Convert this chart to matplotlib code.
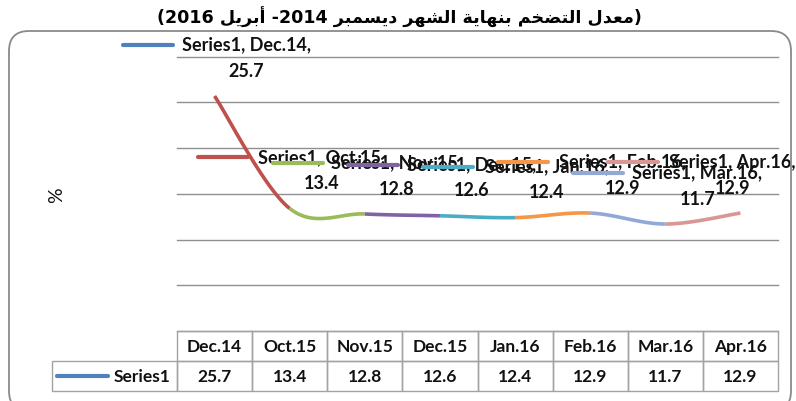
import matplotlib
matplotlib.use('Agg')
import matplotlib.pyplot as plt
import numpy as np
from matplotlib.lines import Line2D
from matplotlib.patches import FancyBboxPatch, Rectangle
from matplotlib.transforms import IdentityTransform, blended_transform_factory

# ---------------- data ----------------
categories = ['Dec.14', 'Oct.15', 'Nov.15', 'Dec.15', 'Jan.16', 'Feb.16', 'Mar.16', 'Apr.16']
values = [25.7, 13.4, 12.8, 12.6, 12.4, 12.9, 11.7, 12.9]
series_name = 'Series1'
y_label = '%'
y_max = 30
y_step = 5
# title pieces (logical Arabic words)
title_words = ['معدل', 'التضخم', 'بنهاية', 'الشهر', 'ديسمبر']
title_year_start = '2014'
title_month_end = 'أبريل'
title_year_end = '2016'

# ---------------- styles ----------------
series_color = '#4F81BD'
segment_colors = ['#C0504D', '#9BBB59', '#8064A2', '#4BACC6', '#F79646', '#92A9D8', '#D99694']
key_colors = [series_color] + segment_colors
label_offsets = [(32, 39)] * 7 + [(-8, 39)]   # pixels from the point (x right, y up)
W, H, DPI = 796, 402, 100
FONT = 'Lato'
TXT = '#111111'

# ---------------- minimal Arabic shaping ----------------
FORMS = {
    '\u0627': (0xFE8D, 0xFE8E, None, None),
    '\u0623': (0xFE83, 0xFE84, None, None),
    '\u062F': (0xFEA9, 0xFEAA, None, None),
    '\u0631': (0xFEAD, 0xFEAE, None, None),
    '\u0629': (0xFE93, 0xFE94, None, None),
    '\u0628': (0xFE8F, 0xFE90, 0xFE91, 0xFE92),
    '\u062A': (0xFE95, 0xFE96, 0xFE97, 0xFE98),
    '\u062E': (0xFEA5, 0xFEA6, 0xFEA7, 0xFEA8),
    '\u0633': (0xFEB1, 0xFEB2, 0xFEB3, 0xFEB4),
    '\u0634': (0xFEB5, 0xFEB6, 0xFEB7, 0xFEB8),
    '\u0636': (0xFEBD, 0xFEBE, 0xFEBF, 0xFEC0),
    '\u0639': (0xFEC9, 0xFECA, 0xFECB, 0xFECC),
    '\u0644': (0xFEDD, 0xFEDE, 0xFEDF, 0xFEE0),
    '\u0645': (0xFEE1, 0xFEE2, 0xFEE3, 0xFEE4),
    '\u0646': (0xFEE5, 0xFEE6, 0xFEE7, 0xFEE8),
    '\u0647': (0xFEE9, 0xFEEA, 0xFEEB, 0xFEEC),
    '\u064A': (0xFEF1, 0xFEF2, 0xFEF3, 0xFEF4),
}


def shape(word):
    out = []
    n = len(word)
    for i, ch in enumerate(word):
        f = FORMS.get(ch)
        if f is None:
            out.append(ch)
            continue
        prev = word[i - 1] if i > 0 else None
        nxt = word[i + 1] if i < n - 1 else None
        jp = prev in FORMS and FORMS[prev][2] is not None
        jn = f[2] is not None and nxt in FORMS
        if jp and jn:
            c = f[3]
        elif jp:
            c = f[1]
        elif jn:
            c = f[2]
        else:
            c = f[0]
        out.append(chr(c))
    return ''.join(reversed(out))


arabic_part = ' '.join(shape(w) for w in reversed(title_words))
title_visual = ('(' + title_year_end + ' ' + shape(title_month_end) + ' -' + title_year_start + ' '
                + arabic_part + ')')

# ---------------- figure ----------------
fig = plt.figure(figsize=(W / DPI, H / DPI), dpi=DPI)
fig.patch.set_facecolor('white')
ax_l, ax_r, ax_t, ax_b = 177, 778, 57.7, 332
ax_w = ax_r - ax_l
ax_h = ax_b - ax_t
ax = fig.add_axes([ax_l / W, 1 - ax_b / H, ax_w / W, ax_h / H])
ax.set_xlim(-0.5, len(categories) - 0.5)
ax.set_ylim(0, y_max)
ax.set_yticks(np.arange(0, y_max + 1, y_step))
ax.grid(axis='y', color='#8F8F8F', lw=1.0)
for gl in ax.get_ygridlines():
    gl.set_clip_on(False)
ax.tick_params(left=False, bottom=False, labelleft=False, labelbottom=False)
for s in ax.spines.values():
    s.set_visible(False)
ax.set_axisbelow(True)
ax.patch.set_alpha(0)

# smoothed line (Catmull-Rom style Bezier, like Excel smoothing)
x = np.arange(len(values), dtype=float)
y = np.array(values, dtype=float)
P = np.column_stack([x, y])
n = len(P)
t = np.linspace(0, 1, 60)[:, None]
for i in range(n - 1):
    p0 = P[max(i - 1, 0)]
    p1 = P[i]
    p2 = P[i + 1]
    p3 = P[min(i + 2, n - 1)]
    c1 = p1 + (p2 - p0) / 6.0
    c2 = p2 - (p3 - p1) / 6.0
    B = (1 - t) ** 3 * p1 + 3 * (1 - t) ** 2 * t * c1 + 3 * (1 - t) * t ** 2 * c2 + t ** 3 * p2
    ax.plot(B[:, 0], B[:, 1], color=segment_colors[i], lw=2.6, solid_capstyle='butt', zorder=3)

# data labels with legend keys
for i, (cat, v) in enumerate(zip(categories, values)):
    dx, dy = label_offsets[i]
    ax.annotate(f'{series_name}, {cat},\n{v}', xy=(i, v), xytext=(dx, dy),
                textcoords='offset pixels', ha='center', va='center', ma='center',
                fontsize=13, fontweight='bold', fontfamily=FONT, linespacing=1.65,
                color=TXT, zorder=5, annotation_clip=False)
    px, py = ax.transData.transform((i, v))
    cx, cy = px + dx, py + dy
    fig.add_artist(Line2D([cx - 124, cx - 74], [cy + 12, cy + 12], transform=IdentityTransform(),
                          color=key_colors[i], lw=3.0, solid_capstyle='round', zorder=4))

# data table (columns aligned with the categories)
row_h = 30 / ax_h
col_w_px = ax_w / len(categories)
lab_w = (ax_l - 52) / col_w_px
tr = blended_transform_factory(ax.transData, ax.transAxes)
edge = '#A3A3A3'
tkw = dict(transform=tr, ha='center', va='center', fontsize=12.5, fontweight='bold',
           fontfamily=FONT, color=TXT, clip_on=False)
for j, cat in enumerate(categories):
    for r, txt in ((0, cat), (1, f'{values[j]}')):
        y0 = -(r + 1) * row_h
        ax.add_patch(Rectangle((j - 0.5, y0), 1, row_h, transform=tr, fill=False,
                               ec=edge, lw=1.0, clip_on=False))
        ax.text(j, y0 + row_h / 2, txt, **tkw)
ax.add_patch(Rectangle((-0.5 - lab_w, -2 * row_h), lab_w, row_h, transform=tr, fill=False,
                       ec=edge, lw=1.0, clip_on=False))
ax.text(-0.5 - 0.09, -1.5 * row_h, series_name, **{**tkw, 'ha': 'right'})
ax.add_line(Line2D([-0.5 - lab_w + 0.07, -0.5 - lab_w + 0.75], [-1.5 * row_h] * 2, transform=tr,
                   color=series_color, lw=3.0, solid_capstyle='round', clip_on=False))

# y label
fig.text(57 / W, 1 - 195 / H, y_label, rotation=90, ha='center', va='center',
         fontsize=14, fontfamily=FONT, color=TXT)

# title
renderer = fig.canvas.get_renderer()
tt = fig.text(399 / W, 1 - 17 / H, title_visual, ha='center', va='center', fontsize=12,
              fontweight='bold', family=['DejaVu Sans'], color='black')
wpx = tt.get_window_extent(renderer).width
tt.set_fontsize(12 * 482 / wpx)

# rounded chart frame
fig.add_artist(FancyBboxPatch((9, H - 412), 782, 412 - 32, boxstyle='round,pad=0,rounding_size=20',
                              transform=IdentityTransform(), fill=False, ec='#8A8A8A', lw=1.3))

fig.savefig('out.png', dpi=DPI, facecolor='white')
